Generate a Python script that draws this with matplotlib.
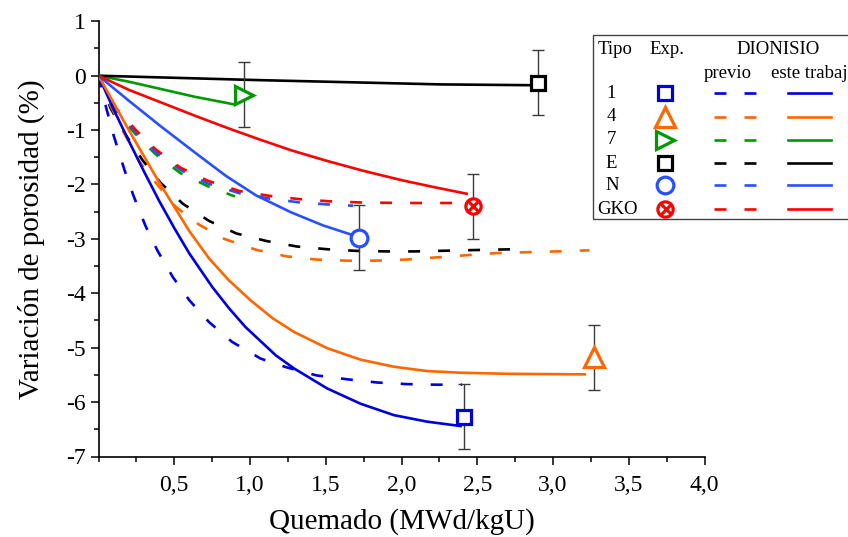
import matplotlib
matplotlib.use("Agg")
import matplotlib.pyplot as plt
from matplotlib.ticker import MultipleLocator, FixedLocator
from matplotlib.patches import Rectangle
from matplotlib.lines import Line2D

plt.rcParams['font.family'] = ['Liberation Serif', 'DejaVu Serif']
plt.rcParams['lines.scale_dashes'] = False
plt.rcParams['axes.unicode_minus'] = False

# --- data ---
# DIONISIO "este trabajo" (solid)
x_t1 = [0, 0.1, 0.2, 0.3, 0.4, 0.5, 0.6, 0.75, 0.86, 0.97, 1.17, 1.29, 1.51, 1.73, 1.95, 2.17, 2.39]
y_t1 = [0, -0.62, -1.20, -1.76, -2.30, -2.80, -3.27, -3.88, -4.27, -4.62, -5.14, -5.38, -5.75, -6.03, -6.24, -6.36, -6.44]
x_t4 = [0, 0.2, 0.4, 0.6, 0.73, 0.86, 1.0, 1.15, 1.29, 1.51, 1.73, 1.95, 2.17, 2.39, 2.70, 3.21]
y_t4 = [0, -1.00, -1.96, -2.86, -3.36, -3.76, -4.12, -4.46, -4.71, -5.01, -5.22, -5.35, -5.43, -5.46, -5.48, -5.49]
x_t7 = [0, 0.2, 0.42, 0.64, 0.90]
y_t7 = [0, -0.11, -0.25, -0.39, -0.53]
x_tE = [0, 1.04, 2.26, 2.87]
y_tE = [0, -0.08, -0.16, -0.175]
x_tN = [0, 0.2, 0.42, 0.64, 0.84, 1.04, 1.27, 1.48, 1.70]
y_tN = [0, -0.46, -0.95, -1.42, -1.84, -2.20, -2.51, -2.75, -2.95]
x_tG = [0, 0.2, 0.42, 0.64, 0.86, 1.04, 1.27, 1.5, 1.75, 2.0, 2.2, 2.43]
y_tG = [0, -0.26, -0.50, -0.74, -0.97, -1.15, -1.37, -1.56, -1.75, -1.92, -2.04, -2.17]

# DIONISIO "previo" (dashed)
x_p1 = [0, 0.05, 0.10, 0.17, 0.23, 0.31, 0.39, 0.49, 0.60, 0.73, 0.88, 1.07, 1.24, 1.44, 1.64, 1.84, 2.04, 2.23, 2.40]
y_p1 = [0, -0.58, -1.10, -1.72, -2.20, -2.76, -3.22, -3.70, -4.13, -4.53, -4.89, -5.20, -5.36, -5.51, -5.58, -5.64, -5.67, -5.68, -5.68]
x_p4 = [0, 0.08, 0.17, 0.27, 0.39, 0.51, 0.665, 0.83, 1.04, 1.24, 1.44, 1.64, 1.83, 2.03, 2.23, 2.43, 2.63, 3.02, 3.24]
y_p4 = [0, -0.55, -1.06, -1.58, -2.01, -2.41, -2.74, -3.00, -3.20, -3.32, -3.38, -3.40, -3.40, -3.38, -3.34, -3.30, -3.26, -3.23, -3.21]
x_p7 = [0, 0.10, 0.24, 0.375, 0.54, 0.72, 0.90]
y_p7 = [0, -0.62, -1.06, -1.44, -1.79, -2.03, -2.22]
x_pE = [0, 0.08, 0.18, 0.29, 0.41, 0.555, 0.73, 0.91, 1.11, 1.31, 1.51, 1.70, 1.90, 2.09, 2.40, 2.74]
y_pE = [0, -0.60, -1.09, -1.55, -1.97, -2.35, -2.67, -2.90, -3.04, -3.14, -3.19, -3.22, -3.23, -3.23, -3.21, -3.19]
x_pN = [0, 0.10, 0.24, 0.375, 0.54, 0.72, 0.93, 1.13, 1.33, 1.53, 1.68]
y_pN = [0, -0.58, -1.02, -1.40, -1.73, -1.98, -2.16, -2.26, -2.33, -2.37, -2.39]
x_pG = [0, 0.10, 0.24, 0.375, 0.54, 0.72, 0.93, 1.13, 1.33, 1.53, 1.73, 2.0, 2.38]
y_pG = [0, -0.55, -0.98, -1.35, -1.69, -1.93, -2.12, -2.21, -2.27, -2.31, -2.33, -2.34, -2.34]

# experimental points (x, y, error)
exp_names = ['1', '4', '7', 'E', 'N', 'GKO']
exp_x = [2.41, 3.27, 0.96, 2.90, 1.72, 2.47]
exp_y = [-6.27, -5.18, -0.35, -0.13, -2.98, -2.40]
exp_err = [0.6, 0.6, 0.6, 0.6, 0.6, 0.6]

colors = ['#0000dd', '#ff6600', '#009900', '#000000', '#2850ff', '#ff0000']
markers = ['s', '^', '>', 's', 'o', 'o']
msizes = [10, 14, 13, 10, 12, 11]

solid_x = [x_t1, x_t4, x_t7, x_tE, x_tN, x_tG]
solid_y = [y_t1, y_t4, y_t7, y_tE, y_tN, y_tG]
dash_x = [x_p1, x_p4, x_p7, x_pE, x_pN, x_pG]
dash_y = [y_p1, y_p4, y_p7, y_pE, y_pN, y_pG]

W, H = 848, 537
fig = plt.figure(figsize=(W / 100, H / 100), dpi=100)
ax = fig.add_axes([98.5 / W, (H - 456.5) / H, 606 / W, 435.2 / H])

DASH = (8.6, 13)
LW = 1.9

for i in [3, 1, 0, 2, 4, 5]:
    ax.plot(dash_x[i], dash_y[i], color=colors[i], lw=LW, dashes=DASH, zorder=2)
for i in range(6):
    ax.plot(solid_x[i], solid_y[i], color=colors[i], lw=LW, zorder=3)

ax.errorbar(exp_x, exp_y, yerr=exp_err, fmt='none', ecolor='#3a3a3a',
            elinewidth=1.0, capsize=4.5, capthick=1.0, zorder=4)
for i in range(6):
    ax.plot(exp_x[i], exp_y[i], marker=markers[i], ms=msizes[i], mfc='white',
            mec=colors[i], mew=2.3, ls='none', zorder=5, clip_on=False)
ax.plot(exp_x[5], exp_y[5], marker='x', ms=6.5, mec=colors[5], mew=2.3,
        ls='none', zorder=6)

ax.set_xlim(0, 4)
ax.set_ylim(-7, 1)
ax.xaxis.set_major_locator(FixedLocator([0.5, 1.0, 1.5, 2.0, 2.5, 3.0, 3.5, 4.0]))
ax.set_xticklabels(['0,5', '1,0', '1,5', '2,0', '2,5', '3,0', '3,5', '4,0'])
ax.xaxis.set_minor_locator(MultipleLocator(0.25))
ax.yaxis.set_major_locator(MultipleLocator(1))
ax.yaxis.set_minor_locator(MultipleLocator(0.5))
ax.tick_params(which='major', direction='out', length=6, width=1.1, labelsize=17, pad=3)
ax.tick_params(which='minor', direction='out', length=3.5, width=1.1)
ax.tick_params(axis='x', which='major', pad=7)
for s in ['top', 'right']:
    ax.spines[s].set_visible(False)
for s in ['left', 'bottom']:
    ax.spines[s].set_linewidth(1.2)

ax.set_xlabel('Quemado (MWd/kgU)', fontsize=21, labelpad=9)
ax.set_ylabel('Variación de porosidad (%)', fontsize=21, labelpad=15)

# table-like legend drawn in figure pixels
def fx(px):
    return px / W

def fy(py):
    return 1 - py / H

fig.patches.append(Rectangle((fx(593), fy(219)), fx(870) - fx(593), fy(35) - fy(219),
                             transform=fig.transFigure, fill=False,
                             edgecolor='#444444', lw=1.0))
fs = 13.5
fig.text(fx(615), fy(50), 'Tipo', fontsize=fs, ha='center', va='center')
fig.text(fx(667), fy(50), 'Exp.', fontsize=fs, ha='center', va='center')
fig.text(fx(778), fy(50), 'DIONISIO', fontsize=fs, ha='center', va='center')
fig.text(fx(728), fy(73), 'previo', fontsize=fs, ha='center', va='center')
# the reference itself cuts this header at the right edge of the figure
fig.text(fx(771), fy(73), 'este trabajo', fontsize=fs, ha='left', va='center')

row_y = [93, 117, 140, 163, 185, 209]
name_x = [611, 611, 611, 611, 612, 617]
for i in range(6):
    yy = fy(row_y[i])
    fig.text(fx(name_x[i]), yy, exp_names[i], fontsize=fs, ha='center', va='center')
    fig.lines.append(Line2D([fx(665)], [yy], transform=fig.transFigure,
                            marker=markers[i], ms=msizes[i], mfc='white',
                            mec=colors[i], mew=2.3, ls='none'))
    fig.lines.append(Line2D([fx(714), fx(757)], [yy, yy], transform=fig.transFigure,
                            color=colors[i], lw=LW, dashes=DASH))
    fig.lines.append(Line2D([fx(788), fx(831)], [yy, yy], transform=fig.transFigure,
                            color=colors[i], lw=LW))
fig.lines.append(Line2D([fx(666)], [fy(row_y[5])], transform=fig.transFigure,
                        marker='x', ms=6.5, mec=colors[5], mew=2.3, ls='none'))

fig.savefig('out.png', dpi=100)
